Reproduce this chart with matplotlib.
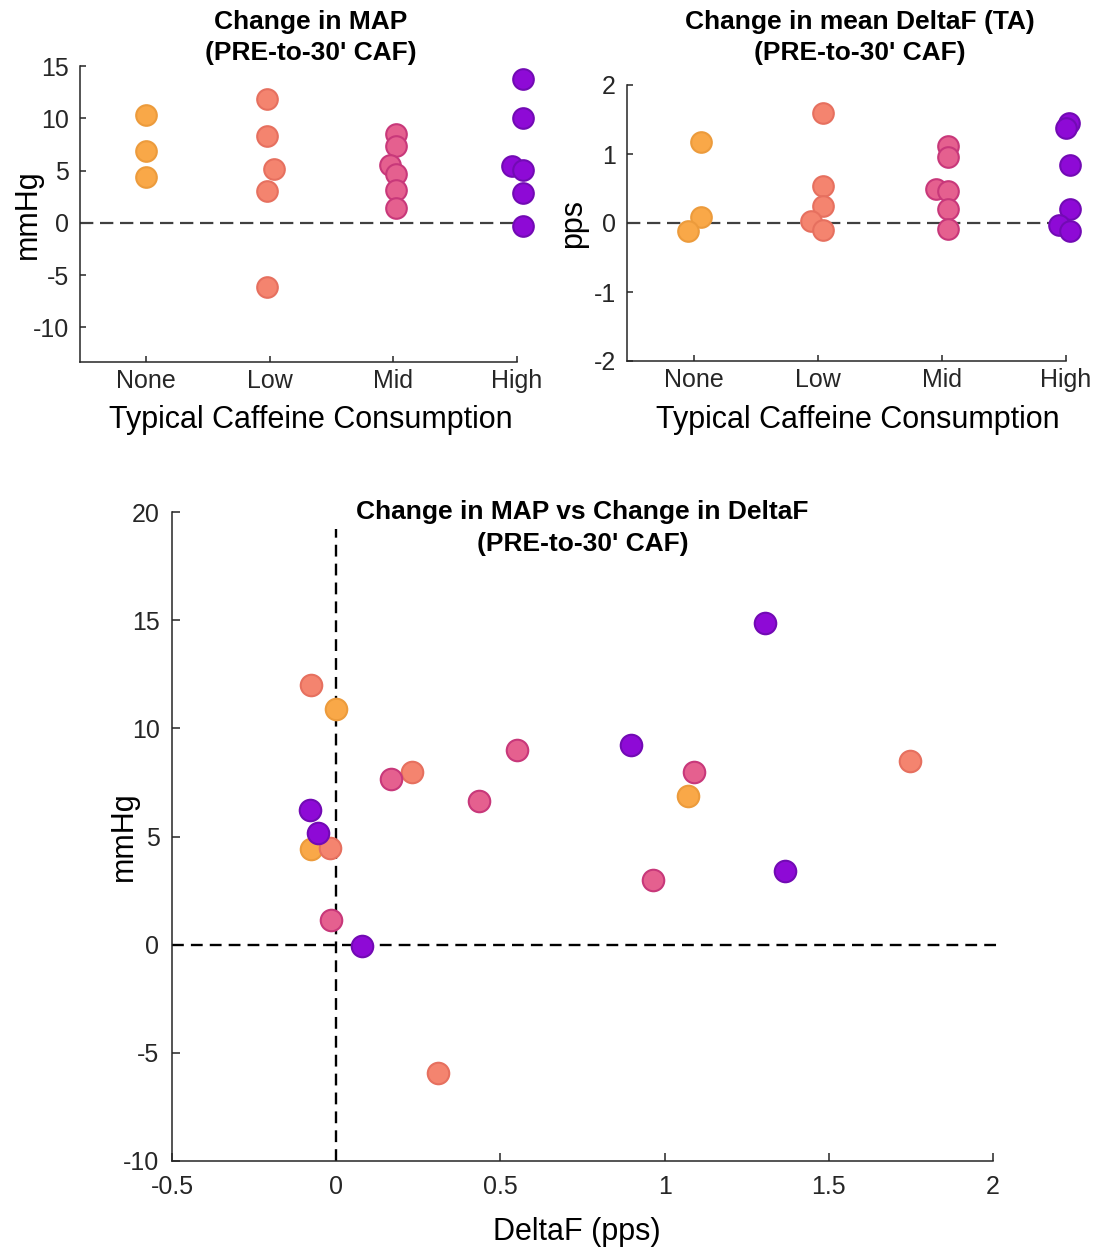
import numpy as np
import matplotlib as mpl
mpl.use("agg")
import matplotlib.pyplot as plt

plt.rcParams['font.family'] = ['Liberation Sans', 'DejaVu Sans']
plt.rcParams['axes.unicode_minus'] = False

# caffeine groups
groups = ["None", "Low", "Mid", "High"]
colors = ['#F9A848', '#F4846F', '#E5608F', '#8E0AD6']
edges = ['#EC9B3C', '#E6705F', '#C8387A', '#720AB4']

# change in MAP (mmHg) per group, with small x jitter
map_none = [10.29, 6.91, 4.39]
map_low = [11.85, 8.31, 5.19, 3.03, -6.11]
map_mid = [8.5, 7.36, 5.54, 4.65, 3.18, 1.40]
map_high = [13.73, 10.06, 5.41, 5.03, 2.90, -0.25]
mapj_none = [0, 0, 0]
mapj_low = [-0.02, -0.02, 0.035, -0.02, -0.02]
mapj_mid = [0.02, 0.02, -0.03, 0.02, 0.02, 0.02]
mapj_high = [0.05, 0.05, -0.04, 0.05, 0.05, 0.05]

# change in mean DeltaF (pps) per group
df_none = [1.17, 0.086, -0.12]
df_low = [1.60, 0.54, 0.24, 0.03, -0.105]
df_mid = [1.12, 0.95, 0.49, 0.47, 0.21, -0.08]
df_high = [1.45, 1.37, 0.84, 0.21, -0.03, -0.12]
dfj_none = [0.054, 0.054, -0.048]
dfj_low = [0.043, 0.043, 0.043, -0.054, 0.043]
dfj_mid = [0.045, 0.045, -0.045, 0.045, 0.045, 0.045]
dfj_high = [0.028, 0.0, 0.034, 0.034, -0.057, 0.034]

# scatter: DeltaF vs MAP
sc_none_x = [0.0, 1.07, -0.077]
sc_none_y = [10.89, 6.88, 4.42]
sc_low_x = [-0.076, 0.232, -0.018, 1.748, 0.31]
sc_low_y = [12.0, 7.98, 4.45, 8.5, -5.91]
sc_mid_x = [0.551, 0.167, 1.09, 0.434, 0.966, -0.015]
sc_mid_y = [9.0, 7.67, 8.0, 6.62, 3.0, 1.12]
sc_high_x = [0.899, -0.079, -0.054, 0.079, 1.307, 1.368]
sc_high_y = [9.24, 6.24, 5.16, -0.08, 14.87, 3.42]

map_vals = [map_none, map_low, map_mid, map_high]
map_jit = [mapj_none, mapj_low, mapj_mid, mapj_high]
df_vals = [df_none, df_low, df_mid, df_high]
df_jit = [dfj_none, dfj_low, dfj_mid, dfj_high]
sc_x = [sc_none_x, sc_low_x, sc_mid_x, sc_high_x]
sc_y = [sc_none_y, sc_low_y, sc_mid_y, sc_high_y]

axcol = '#262626'


def style(ax, length=4.5, pad=8):
    for s in ['top', 'right']:
        ax.spines[s].set_visible(False)
    for s in ['left', 'bottom']:
        ax.spines[s].set_color(axcol)
        ax.spines[s].set_linewidth(1.1)
    ax.tick_params(direction='in', length=length, width=1.1, colors=axcol,
                   labelsize=18, labelcolor=axcol)
    ax.tick_params(axis='y', pad=pad)
    ax.tick_params(axis='x', pad=5)


fig = plt.figure(figsize=(10.98, 12.5), dpi=100)

# top left: MAP
ax1 = fig.add_axes([80/1098, 1-362/1250, 437/1098, 296/1250])
for i in range(4):
    xs = [i + 1 + j for j in map_jit[i]]
    ax1.scatter(xs, map_vals[i], s=220, marker='o', color=colors[i],
                edgecolors=edges[i], linewidths=1.5, zorder=3, clip_on=False)
ax1.plot([0.466, 4], [0, 0], color='#404040', lw=1.6, ls=(0, (6, 3)), zorder=2)
ax1.set_xlim(0.466, 4)
ax1.set_ylim(-13.3, 15)
ax1.set_xticks([1, 2, 3, 4])
ax1.set_xticklabels(groups)
ax1.set_yticks([-10, -5, 0, 5, 10, 15])
style(ax1)
ax1.set_xlabel("Typical Caffeine Consumption", fontsize=22)
ax1.xaxis.set_label_coords(0.529, -0.145)
ax1.set_ylabel("mmHg", fontsize=22, va='center')
ax1.yaxis.set_label_coords(-0.119, 0.5)
fig.text(311/1098, 1-10/1250, "Change in MAP\n(PRE-to-30' CAF)", ha='center', va='top',
         fontsize=19, fontweight='bold', linespacing=1.38)

# top right: DeltaF
ax2 = fig.add_axes([627/1098, 1-361/1250, 439/1098, 276/1250])
for i in range(4):
    xs = [i + 1 + j for j in df_jit[i]]
    ax2.scatter(xs, df_vals[i], s=220, marker='o', color=colors[i],
                edgecolors=edges[i], linewidths=1.5, zorder=3, clip_on=False)
ax2.plot([0.46, 4], [0, 0], color='#404040', lw=1.6, ls=(0, (6, 3)), zorder=2)
ax2.set_xlim(0.46, 4)
ax2.set_ylim(-2, 2)
ax2.set_xticks([1, 2, 3, 4])
ax2.set_xticklabels(groups)
ax2.set_yticks([-2, -1, 0, 1, 2])
style(ax2)
ax2.set_xlabel("Typical Caffeine Consumption", fontsize=22)
ax2.xaxis.set_label_coords(0.526, -0.159)
ax2.set_ylabel("pps", fontsize=22, va='center')
ax2.yaxis.set_label_coords(-0.123, 0.5)
fig.text(860/1098, 1-10/1250, "Change in mean DeltaF (TA)\n(PRE-to-30' CAF)", ha='center',
         va='top', fontsize=19, fontweight='bold', linespacing=1.38)

# bottom: scatter
ax3 = fig.add_axes([172/1098, 1-1161/1250, 821/1098, 649/1250])
ax3.plot([-0.5, 2.012], [0, 0], color='black', lw=1.7, ls=(0, (5, 3)), zorder=2,
         clip_on=False)
ax3.plot([0, 0], [-10, 19.2], color='black', lw=1.7, ls=(0, (5, 3)), zorder=2)
for i in range(4):
    ax3.scatter(sc_x[i], sc_y[i], s=240, marker='o', color=colors[i],
                edgecolors=edges[i], linewidths=1.5, zorder=3)
ax3.set_xlim(-0.5, 2)
ax3.set_ylim(-10, 20)
ax3.set_xticks([-0.5, 0, 0.5, 1, 1.5, 2])
ax3.set_xticklabels(['-0.5', '0', '0.5', '1', '1.5', '2'])
ax3.set_yticks([-10, -5, 0, 5, 10, 15, 20])
style(ax3, length=6, pad=9)
ax3.tick_params(axis='x', pad=10)
ax3.set_xlabel("DeltaF (pps)", fontsize=22)
ax3.xaxis.set_label_coords(0.493, -0.086)
ax3.set_ylabel("mmHg", fontsize=22, va='center')
ax3.yaxis.set_label_coords(-0.058, 0.5)
ax3.text(0.5, 1.018, "Change in MAP vs Change in DeltaF\n(PRE-to-30' CAF)",
         transform=ax3.transAxes, ha='center', va='top', fontsize=19, fontweight='bold',
         linespacing=1.38)

plt.savefig("out.png", dpi=100)
